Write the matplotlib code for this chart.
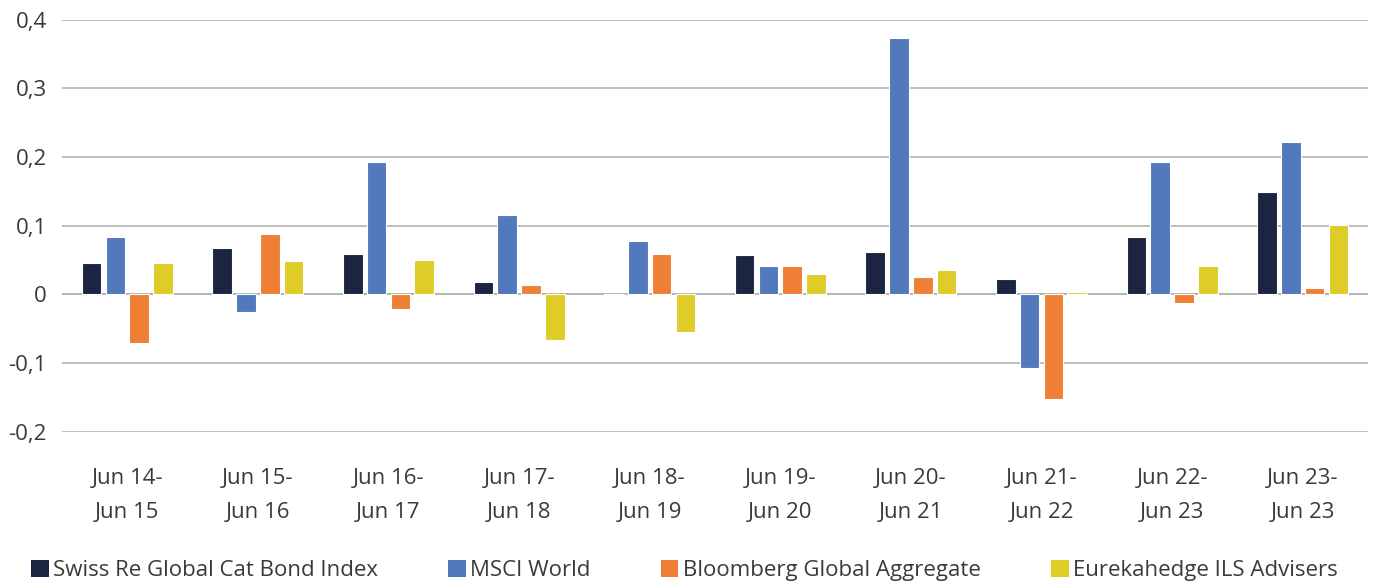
import numpy as np
import matplotlib
matplotlib.use("Agg")
import matplotlib.pyplot as plt
from matplotlib.ticker import FuncFormatter
from matplotlib.patches import Patch

plt.rcParams['font.family'] = ['Open Sans', 'DejaVu Sans']

periods = ["Jun 14-\nJun 15", "Jun 15-\nJun 16", "Jun 16-\nJun 17", "Jun 17-\nJun 18",
           "Jun 18-\nJun 19", "Jun 19-\nJun 20", "Jun 20-\nJun 21", "Jun 21-\nJun 22",
           "Jun 22-\nJun 23", "Jun 23-\nJun 23"]

series_names = ["Swiss Re Global Cat Bond Index", "MSCI World",
                "Bloomberg Global Aggregate", "Eurekahedge ILS Advisers"]

cat_bond = [0.046, 0.068, 0.059, 0.018, -0.001, 0.058, 0.062, 0.023, 0.084, 0.149]
msci = [0.083, -0.025, 0.193, 0.116, 0.078, 0.042, 0.373, -0.107, 0.193, 0.222]
bloomberg = [-0.071, 0.088, -0.022, 0.014, 0.059, 0.042, 0.026, -0.152, -0.012, 0.010]
eurekahedge = [0.046, 0.049, 0.050, -0.066, -0.055, 0.030, 0.036, 0.004, 0.042, 0.101]

colors = ['#1b2541', '#5279bc', '#ef7f34', '#e0cc28']
text_col = '#3a3a3a'

fig = plt.figure(figsize=(13.75, 5.85), dpi=100)
ax = fig.add_axes([62/1375, 1-431.7/585, (1368-62)/1375, (431.7-19.7)/585])

x = np.arange(len(periods))
slot = 0.1823
width = 0.15
for i, vals in enumerate([cat_bond, msci, bloomberg, eurekahedge]):
    ax.bar(x + (i-1.5)*slot, vals, width, color=colors[i], edgecolor='white',
           linewidth=0.8, zorder=3, label=series_names[i])

ax.set_xlim(-0.5, len(periods)-0.5)
ax.set_ylim(-0.2, 0.4)
ax.set_yticks(np.arange(-0.2, 0.41, 0.1))
ax.yaxis.set_major_formatter(FuncFormatter(
    lambda v, p: '0' if abs(v) < 1e-9 else f'{v:.1f}'.replace('.', ',')))
ax.grid(axis='y', color='#ababab', linewidth=1.1, zorder=0)
ax.axhline(0, color='#d9d9d9', linewidth=1.4, zorder=1)

ax.set_xticks(x)
ax.set_xticklabels(periods, linespacing=1.8)
ax.tick_params(axis='x', length=0, pad=26, labelsize=16, labelcolor=text_col)
ax.tick_params(axis='y', length=0, pad=11, labelsize=16, labelcolor=text_col)
for s in ax.spines.values():
    s.set_visible(False)

handles = [Patch(facecolor=c, edgecolor='none') for c in colors]
fig.legend(handles, series_names, ncol=4, loc='lower left',
           bbox_to_anchor=(22/1375, -0.008), frameon=False, fontsize=16,
           handlelength=0.8, handleheight=0.8, handletextpad=0.2,
           columnspacing=3.15, labelcolor=text_col, borderaxespad=0.0)

fig.savefig('out.png', dpi=100)
